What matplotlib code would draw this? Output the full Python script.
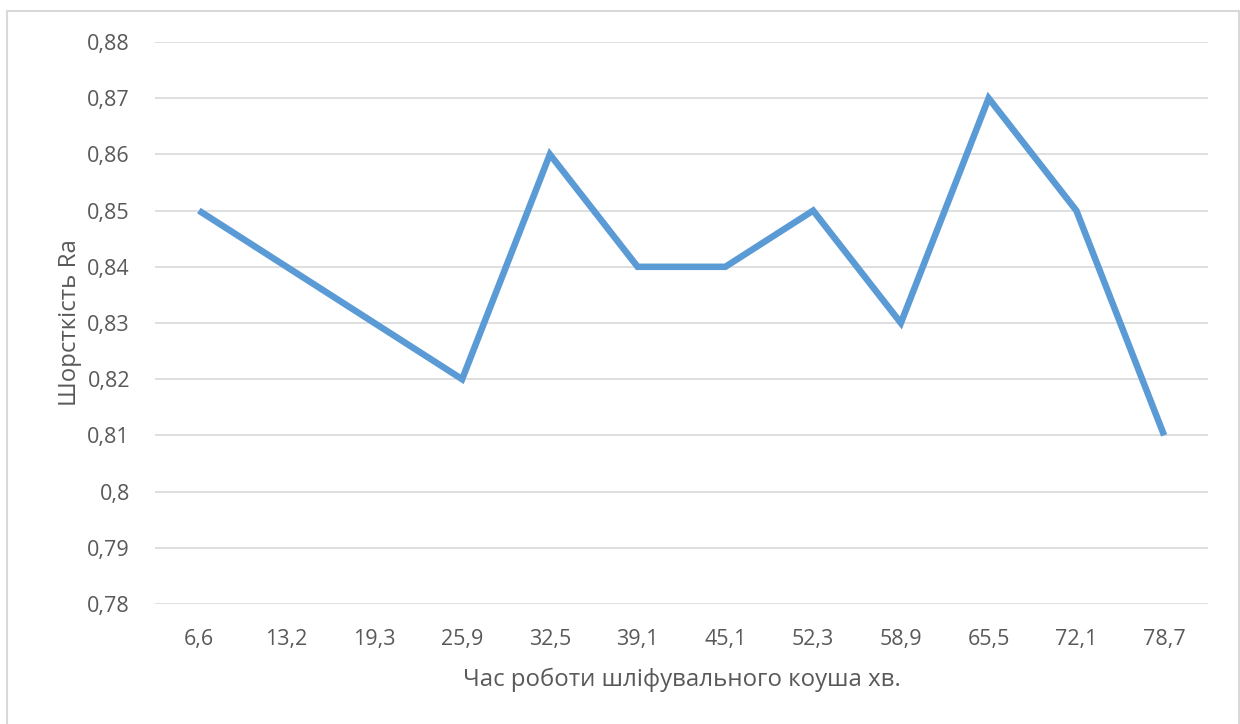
import matplotlib
matplotlib.use("Agg")
import matplotlib.pyplot as plt
from matplotlib.patches import Rectangle
from matplotlib.ticker import FixedLocator, FixedFormatter

plt.rcParams['font.family'] = ['Open Sans', 'DejaVu Sans']

categories = ["6,6", "13,2", "19,3", "25,9", "32,5", "39,1",
              "45,1", "52,3", "58,9", "65,5", "72,1", "78,7"]
roughness = [0.85, 0.84, 0.83, 0.82, 0.86, 0.84,
             0.84, 0.85, 0.83, 0.87, 0.85, 0.81]
y_ticks = [0.78, 0.79, 0.80, 0.81, 0.82, 0.83, 0.84, 0.85, 0.86, 0.87, 0.88]
y_tick_labels = ["0,78", "0,79", "0,8", "0,81", "0,82", "0,83",
                 "0,84", "0,85", "0,86", "0,87", "0,88"]
x_title = "Час роботи шліфувального коуша хв."
y_title = "Шорсткість Ra"

W, H = 1240, 724
fig = plt.figure(figsize=(W / 100, H / 100), dpi=100)
fig.patch.set_facecolor("white")

# chart frame
fig.add_artist(Rectangle((7 / W, -0.05), (1239 - 7) / W, 1.05 - 11 / H,
                         transform=fig.transFigure, fill=False,
                         edgecolor="#D9D9D9", linewidth=1.5))

left, right, top, bottom = 155, 1208, 42, 604
ax = fig.add_axes([left / W, 1 - bottom / H, (right - left) / W, (bottom - top) / H])

x = list(range(len(categories)))
ax.plot(x, roughness, color="#5B9BD5", linewidth=4.7,
        solid_joinstyle="miter", solid_capstyle="butt", zorder=3)

ax.set_xlim(-0.5, len(categories) - 0.5)
ax.set_ylim(y_ticks[0], y_ticks[-1])
ax.yaxis.set_major_locator(FixedLocator(y_ticks))
ax.yaxis.set_major_formatter(FixedFormatter(y_tick_labels))
ax.set_xticks(x)
ax.set_xticklabels(categories)

ax.grid(axis="y", color="#D9D9D9", linewidth=1.2, zorder=0)
for s in ax.spines.values():
    s.set_visible(False)
ax.tick_params(axis="both", length=0, labelsize=15.5, labelcolor="#595959")
ax.tick_params(axis="x", pad=18)
ax.tick_params(axis="y", pad=18)

ax.set_xlabel(x_title, fontsize=17.3, color="#595959", labelpad=13)
ax.set_ylabel(y_title, fontsize=17.3, color="#595959", labelpad=4)

fig.savefig("out.png", dpi=100, facecolor="white")
